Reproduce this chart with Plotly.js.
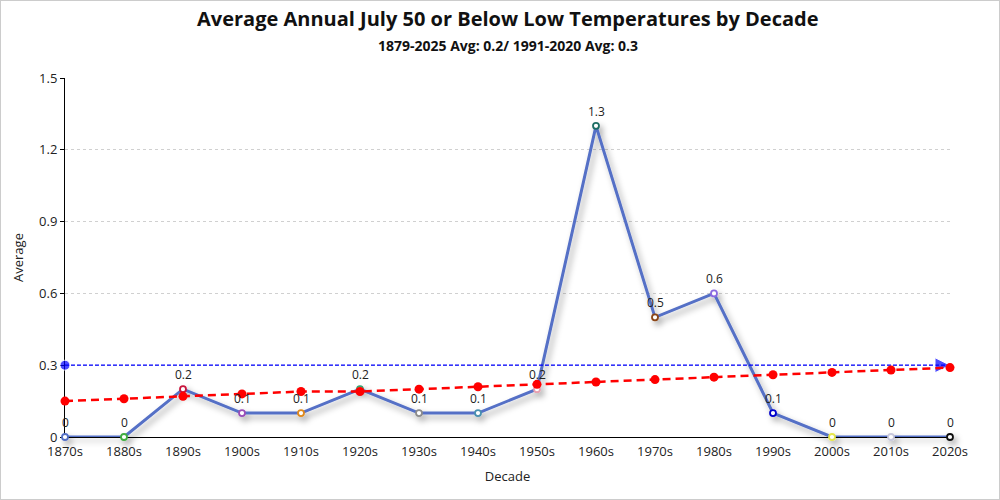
<!DOCTYPE html>
<html><head><meta charset="utf-8">
<script src="https://cdn.plot.ly/plotly-3.0.1.min.js"></script>
<style>body{margin:0;background:#fff}#chart{width:998px;height:498px;border:1px solid #ccc}</style>
</head><body><div id="chart"></div>
<script>
const decades = ['1870s','1880s','1890s','1900s','1910s','1920s','1930s','1940s','1950s','1960s','1970s','1980s','1990s','2000s','2010s','2020s'];
const averages = [0,0,0.2,0.1,0.1,0.2,0.1,0.1,0.2,1.3,0.5,0.6,0.1,0,0,0];
const trend = [0.15,0.16,0.17,0.18,0.19,0.19,0.20,0.21,0.22,0.23,0.24,0.25,0.26,0.27,0.28,0.29];
const normalValue = 0.3;
const markerColors = ['#5470c6','#3fae3f','#c8143c','#9a4fb8','#e08a1e','#3ba272','#8c8c8c','#4a90b0','#e8a0b0','#1f6e64','#8b4513','#8a6ae0','#0000cc','#e6e64c','#c8c8dc','#111111'];
const yTicks = [0,0.3,0.6,0.9,1.2,1.5];
const titleText = 'Average Annual July 50 or Below Low Temperatures by Decade';
const subtitleText = '1879-2025 Avg: 0.2/ 1991-2020 Avg: 0.3';

const font = "'Open Sans','Noto Sans',sans-serif";
const traces = [
  {x: decades, y: averages, type:'scatter', mode:'lines+markers', cliponaxis:false,
   line:{color:'#5470c6', width:3},
   marker:{size:6, color:'#fff', line:{color:markerColors, width:1.8}},
   hoverinfo:'x+y'},
  {x:[decades[0], decades[decades.length-1]], y:[normalValue, normalValue], type:'scatter', mode:'lines+markers', cliponaxis:false,
   line:{color:'#0000ff', width:1.2, dash:'4px,2px'},
   marker:{size:[10,15], color:'#0000ff', symbol:['circle','arrow-right']}, hoverinfo:'skip'},
  {x: decades, y: trend, type:'scatter', mode:'lines+markers', cliponaxis:false,
   line:{color:'red', width:2.5, dash:'8px,5px'},
   marker:{size:9, color:'red'}, hoverinfo:'skip'}
];
const annotations = decades.map((d,i)=>({x:d, y:averages[i], xref:'x', yref:'y', text:String(averages[i]),
  showarrow:false, yanchor:'bottom', yshift:4, font:{size:12, color:'#222', family:font}}));
annotations.push({xref:'paper', yref:'paper', x:0.5, y:1, yshift:60, yanchor:'middle', showarrow:false,
  text:'<b>'+titleText+'</b>', font:{size:20, color:'#111', family:font}});
annotations.push({xref:'paper', yref:'paper', x:0.5, y:1, yshift:33, yanchor:'middle', showarrow:false,
  text:'<b>'+subtitleText+'</b>', font:{size:14, color:'#111', family:font}});
const layout = {
  width:998, height:498,
  margin:{l:64, r:49, t:77, b:62},
  showlegend:false,
  paper_bgcolor:'#fff', plot_bgcolor:'#fff',
  font:{family:font, color:'#333', size:13},
  annotations: annotations,
  xaxis:{type:'category', range:[0,15], showgrid:false, showline:false, zeroline:false, layer:'below traces',
    ticks:'', tickfont:{size:13, color:'#222'}, ticklabelstandoff:5,
    title:{text:'Decade', font:{size:13, color:'#222'}, standoff:12}},
  yaxis:{range:[0,1.5], tickvals:yTicks, ticktext:['0','0.3','0.6','0.9','1.2','1.5'], layer:'below traces',
    showgrid:true, gridcolor:'#d0d0d0', griddash:'dot', gridwidth:1,
    showline:true, linecolor:'#000', linewidth:1, zeroline:true, zerolinecolor:'#000', zerolinewidth:1,
    ticks:'outside', ticklen:4, tickcolor:'#000', tickfont:{size:13, color:'#222'},
    title:{text:'Average', font:{size:13, color:'#222'}, standoff:12}}
};
Plotly.newPlot('chart', traces, layout, {displayModeBar:false}).then(function(gd){
  const svg = gd.querySelector('svg.main-svg');
  const ns = 'http://www.w3.org/2000/svg';
  let defs = svg.querySelector('defs');
  const f = document.createElementNS(ns,'filter');
  f.setAttribute('id','lineShadow'); f.setAttribute('x','-10%'); f.setAttribute('y','-10%');
  f.setAttribute('width','130%'); f.setAttribute('height','130%');
  f.innerHTML = '<feDropShadow dx="3" dy="4" stdDeviation="3" flood-color="#000" flood-opacity="0.35"/>';
  defs.appendChild(f);
  const tr = gd.querySelectorAll('.scatterlayer .trace')[0];
  if (tr) tr.setAttribute('filter','url(#lineShadow)');
});
</script></body></html>
